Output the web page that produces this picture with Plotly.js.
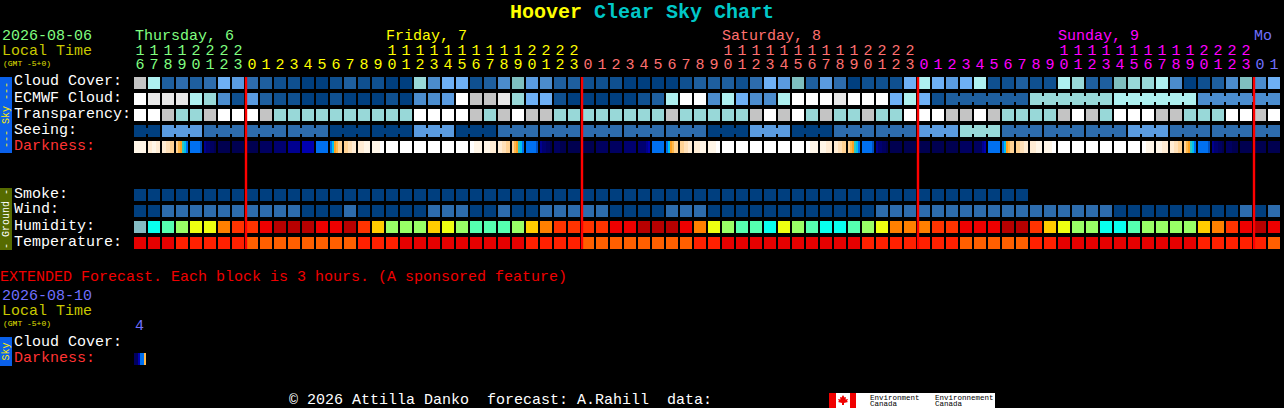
<!DOCTYPE html>
<html>
<head>
<meta charset="utf-8">
<script src="https://cdn.plot.ly/plotly-3.0.1.min.js"></script>
<style>html,body{margin:0;padding:0;background:#000;overflow:hidden}</style>
</head>
<body>
<div id="chart" style="width:1284px;height:408px"></div>
<script>
const hours = [16,17,18,19,20,21,22,23,
  0,1,2,3,4,5,6,7,8,9,10,11,12,13,14,15,16,17,18,19,20,21,22,23,
  0,1,2,3,4,5,6,7,8,9,10,11,12,13,14,15,16,17,18,19,20,21,22,23,
  0,1,2,3,4,5,6,7,8,9,10,11,12,13,14,15,16,17,18,19,20,21,22,23,
  0,1];
const dayNames = ["Thursday, 6","Friday, 7","Saturday, 8","Sunday, 9","Mo"];
const dayLabelX = [135,386,722,1058,1254];
const dayColors = ["#80ff80","#ffff00","#ff7070","#ff00ff","#7070ff"];

const cloudCover = [10,9,2,3,2,3,6,5,3,2, 1,1,0,0,1,2,1,1,0,0, 8,4,6,6,1,2,4,7,5,4, 2,2,1,1,1,0,0,0,0,1,
  2,2,2,1,3,6,5,7,2,5, 3,0,1,1,1,6,9,6,5,6, 9,1,1,2,1,1,9,8,2,2, 7,8,8,9,4,0,1,2,4,7,4,6];
const ecmwfCloud = [12,11,11,11,9,8,4,1,5,2, 1,1,0,0,1,0,0,0,1,0, 4,4,5,12,10,10,11,8,6,6, 1,0,0,0,0,0,1,2,9,12,
  12,4,9,6,4,4,9,12,12,12, 11,12,12,12,6,9,6,1,2,2, 2,2,2,2,8,8,8,8,8,8, 9,9,9,9,9,9,4,4,4,4,4,4];
const transparency = [12,12,10,8,8,10,12,12,12,10, 8,8,8,8,8,8,8,8,8,8, 12,12,12,12,10,8,10,12,10,10, 8,8,8,8,8,8,8,8,10,8,
  8,8,8,8,10,12,10,12,8,10, 8,8,10,8,8,12,12,12,10,10, 12,10,8,8,8,8,10,12,10,8, 12,12,12,10,10,8,8,8,12,12,10,12];
const seeing = [0,0,5,5,5,3,3,3,3,3, 3,3,3,3,0,0,0,0,0,0, 5,5,5,0,0,0,3,3,3,3, 3,3,3,3,3,3,3,3,3,3,
  3,0,0,0,5,5,5,0,0,0, 3,3,3,3,3,3,5,5,5,8, 8,8,3,3,3,3,3,3,3,3, 3,5,5,5,3,3,3,3,3,3,3,3];
const darkness = ["111111","221122","223344","45f678","888889","bccdde","eeeeee","eeeeee","eeeeee","dddddd",
  "cccccc","bbbbbb","aaaaaa","888888","87f544","443322","222111","111100","000000","000000",
  "000000","000000","000000","000000","001111","111222","223344","45f678","888889","bccdde",
  "dddeee","eeeeee","eeeeee","dddddd","dddddd","cccccc","ccccba","888888","87f544","443322",
  "222111","111100","000000","000000","000000","000000","000000","000000","001111","111222",
  "223344","45f678","888889","bccdde","eeeeee","eeeeee","eeeeee","eeeeee","eeeeee","dddddd",
  "ddddba","888888","87f544","443322","222111","111100","000000","000000","000000","000000",
  "000000","000000","001111","111222","223344","45f678","888889","bccdde","dddeee","eeeeee",
  "eeeeee","eeeeee"];
const smoke = [0,0,0,0,0,0,0,0,0,0, 0,0,0,0,0,0,0,0,0,0, 0,0,0,0,0,0,0,0,0,0, 0,0,0,0,0,0,0,0,0,0,
  0,0,0,0,0,0,0,0,0,0, 0,0,0,0,0,0,0,0,0,0, 0,0,0,0];
const wind = [0,0,3,3,3,3,3,3,3,3, 3,3,0,0,0,3,0,0,0,0, 0,3,3,3,0,0,3,0,0,3, 3,3,3,3,0,0,0,0,3,3,
  3,0,0,0,0,0,0,0,0,0, 0,0,0,3,3,3,3,3,3,3, 3,3,3,3,3,3,3,3,3,3, 0,0,0,0,0,0,0,0,0,3,0,3];
const humidity = [0,1,2,3,4,4,6,7,7,8, 9,9,9,8,8,9,7,5,3,3, 3,5,4,3,2,2,2,3,5,6, 7,7,7,7,8,8,9,9,9,8,
  6,4,3,2,2,1,4,3,2,1, 1,2,3,4,6,6,6,7,7,8, 8,8,9,9,7,5,4,3,3,1, 1,2,3,3,3,3,5,6,7,8,9,8];
const temperature = [0,0,0,1,1,1,1,1,2,2, 2,2,2,2,2,2,1,1,1,0, 0,0,0,0,0,0,0,0,1,1, 1,1,2,2,2,2,2,2,2,2,
  1,1,0,0,0,0,0,0,0,0, 0,0,1,1,1,1,1,1,1,2, 2,2,2,2,1,1,0,0,0,0, 0,0,0,0,0,0,1,1,1,1,1,2];
const extendedDarkness = ["dda885"];
const midnightCols = [8,32,56,80];

const cloudPalette = ["#003f7f","#0f5090","#1e5f9f","#2d6cad","#4b8ccd","#5a9be0","#6eb0f5","#7fbfbf","#98d8d8","#aef0f0","#c4c4c4","#e8e8e8","#ffffff"];
const humidityPalette = ["#84bcc4","#08ffee","#55ffb0","#99ff66","#eeff11","#ffcc00","#ff8000","#ff3300","#ee0000","#b80000"];
const temperaturePalette = ["#e60000","#ff2000","#ff5f00"];
const darkPalette = ["#ffffff","#fff6e8","#ffecd4","#ffe0b8","#ffd294","#ffb84a","#30c8c0","#00c0f0","#0070f0","#0050c0","#0000b0","#000090","#000070","#000060","#000050","#ffa020"];

const font = "Liberation Mono, monospace";
function stepped(p){const s=[];p.forEach((c,i)=>{s.push([i/p.length,c]);s.push([(i+1)/p.length,c]);});return s;}
const cols = hours.map((_,i)=>i);
function grid(y,z,palette){
  return {type:"heatmap",x:cols,y:y,z:z,xgap:2,ygap:4,colorscale:stepped(palette),zmin:-0.5,zmax:palette.length-0.5,
    showscale:false,hoverinfo:"skip",zsmooth:false};
}
// fine heatmap for a darkness row: six 2-px samples per 14-px column
function darkRow(cells,rowY){
  const x=[],z=[];
  cells.forEach((s,c)=>{
    for(let j=0;j<7;j++){
      x.push(c+(2*j-5)/14);
      z.push(j<6?parseInt(s[j],16):null);
    }
  });
  return {type:"heatmap",x:x,y:[rowY],z:[z],ygap:4,colorscale:stepped(darkPalette),zmin:-0.5,zmax:darkPalette.length-0.5,
    showscale:false,hoverinfo:"skip",zsmooth:false};
}
function pad(a){return cols.map(i=>i<a.length?a[i]:null);}

// bridges join blocks that belong to one forecast step
function bridges(values,rowY,groupOf,from){
  const out={};
  for(let i=from;i<values.length-1;i++){
    if(groupOf(i)===groupOf(i+1)&&values[i]===values[i+1]){
      const k=values[i];(out[k]=out[k]||{x:[],y:[]});
      out[k].x.push(i,i+1,null);out[k].y.push(rowY,rowY,null);
    }
  }
  return Object.keys(out).map(k=>({type:"scatter",mode:"lines",x:out[k].x,y:out[k].y,hoverinfo:"skip",
    line:{color:cloudPalette[k],width:6},showlegend:false}));
}
const traces=[
  grid([0,1,2,3],[cloudCover,ecmwfCloud,transparency,seeing],cloudPalette),
  darkRow(darkness,4),
  grid([7,8],[pad(smoke),wind],cloudPalette),
  grid([9],[humidity],humidityPalette),
  grid([10],[temperature],temperaturePalette),
  darkRow(extendedDarkness,17.25),
  ...bridges(seeing,3,i=>Math.floor((i+1)/3),0),
  ...bridges(ecmwfCloud,1,i=>Math.floor((i+2)/6),58)
];
// midnight markers
const rx=[],ry=[];
midnightCols.forEach(c=>{rx.push(c-3/7,c-3/7,null);ry.push(-0.375,10.375,null);});
traces.push({type:"scatter",mode:"lines",x:rx,y:ry,line:{color:"#ff0000",width:2.4},hoverinfo:"skip",showlegend:false});
// hour digits
function dayOf(i){return i<8?0:i<32?1:i<56?2:i<80?3:4;}
const hourColors=cols.map(i=>dayColors[dayOf(i)]);
const tensIdx=cols.filter(i=>hours[i]>=10);
traces.push({type:"scatter",mode:"text",x:tensIdx,y:tensIdx.map(()=>-2),text:tensIdx.map(i=>String(Math.floor(hours[i]/10))),
  textposition:"middle center",textfont:{family:font,size:15,color:tensIdx.map(i=>hourColors[i])},hoverinfo:"skip",showlegend:false});
traces.push({type:"scatter",mode:"text",x:cols,y:cols.map(()=>-1.125),text:hours.map(h=>String(h%10)),
  textposition:"middle center",textfont:{family:font,size:15,color:hourColors},hoverinfo:"skip",showlegend:false});

const W=1284,H=408;
function T(text,x,y,color,size,extra){
  const off=(extra&&extra.textangle)?0:1;
  return Object.assign({text:text,xref:"paper",yref:"paper",x:x/W,y:1-(y+off)/H,xanchor:"left",yanchor:"middle",showarrow:false,
    borderpad:0,borderwidth:0,font:{family:font,size:size||15,color:color}},extra||{});
}
const labels=[["Cloud Cover:",81,"#fff"],["ECMWF Cloud:",97,"#fff"],["Transparency:",113,"#fff"],["Seeing:",129,"#fff"],["Darkness:",145,"#ff3333"],
  ["Smoke:",193,"#fff"],["Wind:",209,"#fff"],["Humidity:",225,"#fff"],["Temperature:",241,"#fff"]];
const annotations=[
  T('<b><span style="color:#ffff00">Hoover</span> <span style="color:#00c8c8">Clear Sky Chart</span></b>',642,11,"#ffff00",20,{xanchor:"center"}),
  T("2026-08-06",2,35,"#80ff80"),
  T("Local Time",2,50,"#c8c800"),
  T("(GMT -5+0)",3,62,"#e0e000",8),
  ...dayNames.map((d,i)=>T(d,dayLabelX[i],35,dayColors[i])),
  ...labels.map(l=>T(l[0],14,l[1],l[2])),
  T("EXTENDED Forecast. Each block is 3 hours. (A sponsored feature)",0,276,"#f00000"),
  T("2026-08-10",2,295,"#7070ff"),
  T("Local Time",2,310,"#c8c800"),
  T("(GMT -5+0)",3,322,"#e0e000",8),
  T("4",135,325,"#7070ff"),
  T("Cloud Cover:",14,341,"#fff"),
  T("Darkness:",14,357,"#ff3333"),
  T("\u00a9 2026 Attilla Danko\u00a0\u00a0forecast: A.Rahill\u00a0\u00a0data:",289,399,"#fff"),
  T("Environment",870,397,"#000",7.5),
  T("Canada",870,403,"#000",7.5),
  T("Environnement",935,397,"#000",7.5),
  T("Canada",935,403,"#000",7.5),
  T("---\u00a0Sky\u00a0---",6,115,"#ffee00",10,{xanchor:"center",textangle:-90}),
  T("-\u00a0Ground\u00a0-",6,219,"#ffffff",10,{xanchor:"center",textangle:-90}),
  T("Sky",6,351.5,"#ffee00",10,{xanchor:"center",textangle:-90})
];
function R(x0,y0,x1,y1,c){return {type:"rect",xref:"paper",yref:"paper",x0:x0/W,x1:x1/W,y0:1-y0/H,y1:1-y1/H,fillcolor:c,line:{width:0},layer:"below"};}
const leafPts=[[843,395],[844.5,397.5],[846,397],[845.5,399.5],[848,399],[847,401],[848,402],[844,403],[844,405],[842,405],[842,403],[838,402],[839,401],[838,399],[840.5,399.5],[840,397],[841.5,397.5]];
const leaf={type:"path",xref:"paper",yref:"paper",layer:"below",fillcolor:"#f00000",line:{width:0},
  path:leafPts.map((p,i)=>(i?"L":"M")+(p[0]/W)+","+(1-p[1]/H)).join(" ")+" Z"};
const shapes=[
  R(0,77,12,153,"#0a60ea"),R(0,188,12,250,"#566b00"),R(0,337,12,366,"#0a60ea"),
  R(829,393,995,408,"#ffffff"),R(829,393,836,408,"#f00000"),R(850,393,856,408,"#f00000"),leaf
];
const layout={width:W,height:H,margin:{l:0,r:0,t:0,b:0},paper_bgcolor:"#000",plot_bgcolor:"#000",showlegend:false,
  xaxis:{range:[-10,(W-140)/14],visible:false,fixedrange:true},
  yaxis:{range:[(H-83)/16,-83/16],visible:false,fixedrange:true},
  annotations:annotations,shapes:shapes};
Plotly.newPlot("chart",traces,layout,{displayModeBar:false,staticPlot:true});
</script>
</body>
</html>
